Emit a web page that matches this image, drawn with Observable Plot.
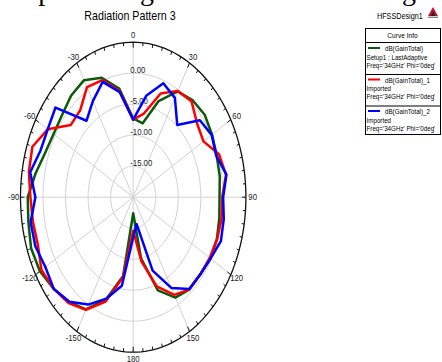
<!DOCTYPE html>
<html>
<head>
<meta charset="utf-8">
<script src="https://cdn.jsdelivr.net/npm/d3@7"></script>
<script src="https://cdn.jsdelivr.net/npm/@observablehq/plot@0.6"></script>
<style>
  html, body { margin: 0; padding: 0; background: #fff; }
  #wrap { position: relative; width: 442px; height: 362px; overflow: hidden; background: #fff; }
  #wrap > svg { position: absolute; left: 0; top: 0; }
  #overlay { pointer-events: none; }
</style>
</head>
<body>
<div id="wrap"></div>
<script>
// Polar gain pattern, phi = 0 deg cut, 34 GHz
const angles = [-180, -170, -160, -150, -140, -130, -120, -110, -100, -90, -80, -70, -60, -50, -40, -30, -20, -10,
                0, 10, 20, 30, 40, 50, 60, 70, 80, 90, 100, 110, 120, 130, 140, 150, 160, 170, 180];

const gainTotal = [-17.4, -7.1, -2.5, 0.9, 2.1, 3.0, 3.9, 4.1, 3.6, 3.4, 2.0, 0.8, 0.4, 0.6, 1.4, 1.8, 0.5, -2.2,
                   -7.3, -7.9, -3.5, -0.3, 0.45, 0.7, 0.2, -0.3, -0.5, -0.85, -0.6, -0.25, -0.2, -0.6, -0.6, -1.3, -4.0, -10.0, -17.4];

const gainTotal1 = [-14.6, -6.9, -2.1, 1.0, 2.3, 3.0, 3.5, 2.5, 2.6, 2.8, 3.5, 3.8, 1.9, -1.9, -1.7, 0.5, 0.1, -2.6,
                    -7.5, -6.3, -2.2, -0.2, 0.15, -1.5, -2.0, 0.25, 0.9, -0.25, -0.1, -0.2, -0.4, -0.6, -0.6, -1.8, -4.7, -9.5, -14.6];

const gainTotal2 = [-13.5, -5.5, -2.6, 0.0, 2.0, 3.0, 2.5, 3.1, 3.1, 1.7, 3.2, 1.9, 1.9, 2.5, -3.9, -2.1, -0.2, -2.8,
                    -7.5, -3.4, -0.45, -1.5, -4.8, -0.7, 0.1, -0.4, 1.0, -0.05, 0.4, 0.7, -0.2, -0.6, -0.65, -3.1, -7.4, -15.6, -13.5];

const seriesNames = ["dB(GainTotal)", "dB(GainTotal)_1", "dB(GainTotal)_2"];
const seriesColors = ["#0b5a0b", "#ff0000", "#0000ff"];
const seriesNotes = [
  ["Setup1 : LastAdaptive", "Freq='34GHz' Phi='0deg'"],
  ["Imported", "Freq='34GHz' Phi='0deg'"],
  ["Imported", "Freq='34GHz' Phi='0deg'"]
];

const ringTicks = [-15, -10, -5, 0];
const angleTicks = [0, 30, 60, 90, 120, 150, 180, -150, -120, -90, -60, -30];
const radialRange = [-20, 5];

const titleText = "Radiation Pattern 3";
const designText = "HFSSDesign1";
const legendTitle = "Curve Info";
const pageText = "ent patch heights are shown in the figure";

const FONT = "'Liberation Sans', Arial, sans-serif";
const NARROW = 0.82; // condensed look of the label face

// polar helpers: angle in degrees (0 at top, clockwise), normalised radius 0..1
const rNorm = v => (v - radialRange[0]) / (radialRange[1] - radialRange[0]);
const px = (a, f) => f * Math.sin(a * Math.PI / 180);
const py = (a, f) => f * Math.cos(a * Math.PI / 180);

const seriesValues = [gainTotal, gainTotal1, gainTotal2];
const rows = seriesNames.flatMap((s, k) => angles.map((a, i) => ({s, a, v: seriesValues[k][i]})));

const ringPts = ringTicks.flatMap(v => d3.range(0, 361, 3).map(a => ({v, a})));
const outerPts = d3.range(0, 361, 2);
const spokes = d3.range(0, 360, 30);
const tickAngles = d3.range(0, 360, 5);

const chart = Plot.plot({
  width: 442,
  height: 362,
  margin: 0,
  style: {fontFamily: FONT, background: "transparent"},
  x: {domain: [-1, 1], range: [20, 245.4], axis: null},
  y: {domain: [-1, 1], range: [351.7, 41.7], axis: null},
  color: {domain: seriesNames, range: seriesColors},
  marks: [
    // concentric dB rings and 30-degree spokes
    Plot.line(ringPts, {x: d => px(d.a, rNorm(d.v)), y: d => py(d.a, rNorm(d.v)), z: "v", stroke: "#d2d2d2", strokeWidth: 1}),
    Plot.link(spokes, {x1: () => 0, y1: () => 0, x2: a => px(a, 1), y2: a => py(a, 1), stroke: "#d2d2d2", strokeWidth: 1}),
    // outer rim with angular ticks
    Plot.line(outerPts, {x: a => px(a, 1), y: a => py(a, 1), stroke: "#111", strokeWidth: 1.3}),
    Plot.link(tickAngles, {
      x1: a => px(a, 1), y1: a => py(a, 1),
      x2: a => px(a, a % 30 === 0 ? 0.965 : 0.978), y2: a => py(a, a % 30 === 0 ? 0.965 : 0.978),
      stroke: "#111", strokeWidth: 1
    }),
    // angle labels
    Plot.text(angleTicks, {x: a => px(a, 1.06), y: a => py(a, 1.045), text: a => String(a), fontSize: 9.5, fill: "#222"}),
    // radial labels
    Plot.text(ringTicks, {x: () => 0, y: v => rNorm(v), text: v => v.toFixed(2), textAnchor: "start", dx: -3, dy: -3, fontSize: 9.5, fill: "#222"}),
    // gain curves
    Plot.line(rows, {x: d => px(d.a, rNorm(d.v)), y: d => py(d.a, rNorm(d.v)), z: "s", stroke: "s", strokeWidth: 2.5})
  ]
});

const wrap = document.getElementById("wrap");
wrap.appendChild(chart);

// header, cropped page text and curve legend
const ov = d3.select(wrap).append("svg")
  .attr("id", "overlay")
  .attr("width", 442).attr("height", 362)
  .style("font-family", FONT);

ov.append("text").attr("x", -3).attr("y", 0)
  .attr("font-family", "Liberation Serif, Times New Roman, serif")
  .attr("font-size", 28).attr("fill", "#000")
  .attr("class", "wide").text(pageText);

ov.append("text").attr("x", 130).attr("y", 19.5).attr("text-anchor", "middle")
  .attr("font-size", 13).attr("fill", "#000").text(titleText);

ov.append("text").attr("x", 377).attr("y", 19).attr("font-size", 8.8).attr("fill", "#000").text(designText);

// small vendor mark
const logo = ov.append("g").attr("transform", "translate(428,7)");
logo.append("path").attr("d", "M5,0 L10,9 L0,9 Z").attr("fill", "#c8102e");
logo.append("path").attr("d", "M5,4 L7.2,9 L2.8,9 Z").attr("fill", "#222");
logo.append("rect").attr("x", 0).attr("y", 9.6).attr("width", 10).attr("height", 1.4).attr("fill", "#888");

const lg = {x: 365, y: 28, w: 75, h: 106};
ov.append("rect").attr("x", lg.x + 0.5).attr("y", lg.y + 0.5).attr("width", lg.w).attr("height", lg.h)
  .attr("fill", "#fff").attr("stroke", "#000").attr("stroke-width", 1);
ov.append("text").attr("x", lg.x + lg.w / 2).attr("y", lg.y + 10).attr("text-anchor", "middle")
  .attr("font-size", 8).attr("fill", "#000").text(legendTitle);
ov.append("line").attr("x1", lg.x).attr("x2", lg.x + lg.w).attr("y1", lg.y + 14.5).attr("y2", lg.y + 14.5)
  .attr("stroke", "#000").attr("stroke-width", 1);

seriesNames.forEach((name, k) => {
  const top = lg.y + 15 + k * 31.5;
  ov.append("line").attr("x1", lg.x + 3).attr("x2", lg.x + 15).attr("y1", top + 5).attr("y2", top + 5)
    .attr("stroke", seriesColors[k]).attr("stroke-width", 2);
  ov.append("text").attr("x", lg.x + 20).attr("y", top + 8).attr("font-size", 7.6).attr("fill", "#000").text(name);
  seriesNotes[k].forEach((line, j) => {
    ov.append("text").attr("x", lg.x + 1.5).attr("y", top + 16.5 + j * 8.2).attr("font-size", 7.6).attr("fill", "#000").text(line);
  });
  if (k < seriesNames.length - 1) {
    ov.append("line").attr("x1", lg.x).attr("x2", lg.x + lg.w).attr("y1", top + 31.5).attr("y2", top + 31.5)
      .attr("stroke", "#000").attr("stroke-width", 1);
  }
});

// condense the sans-serif labels horizontally
d3.select(wrap).selectAll("svg text").each(function () {
  if (this.getAttribute("class") === "wide") return;
  const len = this.getComputedTextLength();
  if (len > 0) {
    this.setAttribute("textLength", (len * NARROW).toFixed(2));
    this.setAttribute("lengthAdjust", "spacingAndGlyphs");
  }
});
</script>
</body>
</html>
